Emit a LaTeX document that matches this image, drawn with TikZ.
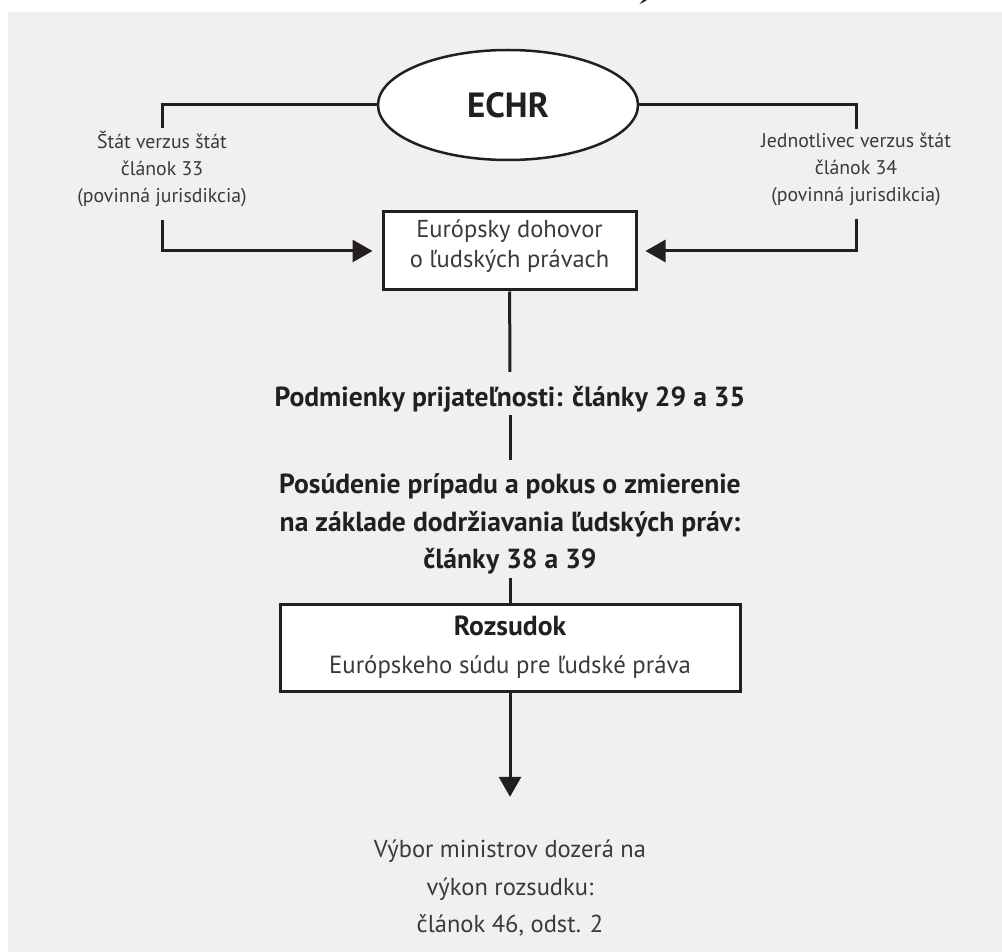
\documentclass[tikz,border=0pt]{standalone}
\usepackage{fontspec}
\setmainfont{PT Sans}
\usetikzlibrary{arrows.meta,positioning,shapes.geometric}
\definecolor{bggray}{HTML}{F0F0F0}
\definecolor{ink}{HTML}{231F20}
\definecolor{txt}{HTML}{3A3A3A}
\tikzset{
  hub/.style  ={draw=ink,ellipse,fill=white,line width=2.5pt,inner sep=0pt,
                minimum width=260pt,minimum height=110pt,text=ink,
                font=\fontsize{35}{40}\selectfont\bfseries},
  side/.style ={align=center,inner sep=0pt,text=txt,
                font=\fontsize{19.8}{27}\selectfont},
  frame/.style={draw=ink,fill=white,line width=3pt,align=center,inner sep=0pt},
  stage/.style={align=center,inner sep=0pt,text=ink,
                font=\fontsize{27.6}{37.5}\selectfont\bfseries},
  note/.style ={align=center,inner sep=0pt,text=txt,minimum height=100pt,
                font=\fontsize{24.5}{37.5}\selectfont},
  ln/.style   ={draw=ink,line width=3pt},
  ar/.style   ={ln,-{Triangle[length=20pt,width=22pt]}},
}
\newcommand{\lifted}[2]{\raisebox{#1}[\height][\depth]{\begin{tabular}{@{}c@{}}#2\end{tabular}}}

\begin{document}
\begin{tikzpicture}[x=1pt,y=-1pt]
\useasboundingbox (0,0) rectangle (1002,952);
\fill[bggray] (8,12) rectangle (1002,952);
\fill[ink] (639.5,4) .. controls (642,3) and (645,1.5) .. (647,0) -- (643,0) .. controls (642,1.5) .. (639.5,4) -- cycle;

\node[hub] (echr) at (508,105) {ECHR};

\node[side] (st33) at (162,169) {Štát verzus štát\\článok 33\\(povinná jurisdikcia)};
\node[side] (st34) at (856,169) {Jednotlivec verzus štát\\článok 34\\(povinná jurisdikcia)};

\node[frame,minimum width=253pt,minimum height=78pt,text=txt,
      font=\fontsize{24.5}{30}\selectfont] (conv) at (509.5,251)
      {\lifted{4pt}{Európsky dohovor\\o ľudských právach}};

\node[stage,minimum height=30pt] (adm) at (510,399) {Podmienky prijateľnosti: články 29 a 35};
\node[stage,minimum height=106pt] (exam) at (510,524) {Posúdenie prípadu a pokus o zmierenie\\na základe dodržiavania ľudských práv:\\články 38 a 39};

\node[frame,minimum width=460pt,minimum height=87pt,text=txt,
      font=\fontsize{24.8}{38}\selectfont] (rozs) at (510,647.5)
      {{\color{ink}\fontsize{27.6}{38}\selectfont\bfseries Rozsudok}\\Európskeho súdu pre ľudské práva};

\node[note] (cm) at (510,888) {Výbor ministrov dozerá na\\výkon rozsudku:\\článok 46, odst. 2};

\draw[ln,shorten >=3pt] (echr.west) -| (st33.north);
\draw[ln,shorten >=3pt] (echr.east) -| (st34.north);
\draw[ar,shorten <=13pt,shorten >=9pt] (st33.south) |- (conv.west);
\draw[ar,shorten <=13pt,shorten >=8pt] (st34.south) |- (conv.east);
\draw[ln,shorten >=12pt] (conv) -- (adm);
\draw[ln,shorten <=1pt,shorten >=11pt] (adm) -- (exam);
\draw[ln,shorten <=1pt] (exam) -- (rozs);
\draw[ar,shorten >=41pt] (rozs) -- (cm);
\end{tikzpicture}
\end{document}
